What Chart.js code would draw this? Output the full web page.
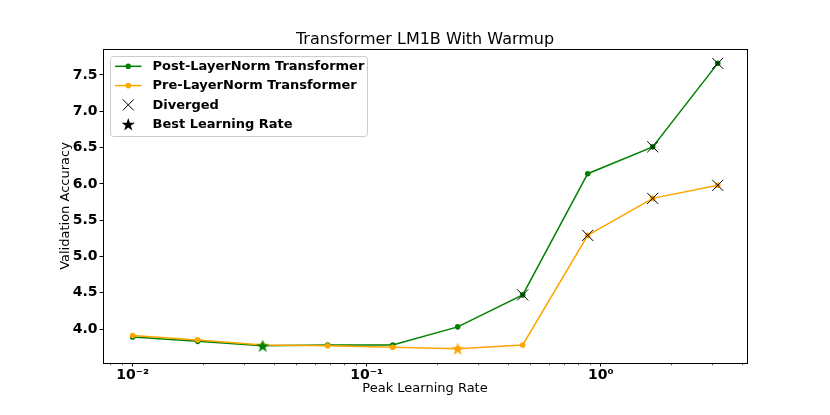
<!DOCTYPE html>
<html>
<head>
<meta charset="utf-8">
<script src="https://cdn.jsdelivr.net/npm/chart.js@4.4.0/dist/chart.umd.min.js"></script>
<style>
    html, body { margin: 0; padding: 0; background: #fff; }
</style>
</head>
<body>
<canvas id="chartWarmup" width="830" height="415"></canvas>
<script>
/* Transformer LM1B with warmup - validation vs peak learning rate */

const chartTitle = 'Transformer LM1B With Warmup';
const learningRates = [0.01, 0.01896, 0.03594, 0.06813, 0.1292, 0.2448, 0.4642, 0.8799, 1.6681, 3.1623];
const postLN = [3.89, 3.83, 3.77, 3.78, 3.78, 4.03, 4.47, 6.14, 6.51, 7.66];
const preLN = [3.91, 3.85, 3.78, 3.77, 3.75, 3.73, 3.78, 5.29, 5.80, 5.98];
const postDiverged = [6, 8, 9];
const preDiverged = [7, 8, 9];
const postBest = 2;
const preBest = 5;

const yTicks = [4.0, 4.5, 5.0, 5.5, 6.0, 6.5, 7.0, 7.5];
const xMajorTicks = [0.01, 0.1, 1];
const xMajorLabels = ['10⁻²', '10⁻¹', '10⁰'];
const xMinorTicks = [0.008, 0.009, 0.02, 0.03, 0.04, 0.05, 0.06, 0.07, 0.08, 0.09,
                     0.2, 0.3, 0.4, 0.5, 0.6, 0.7, 0.8, 0.9, 2, 3, 4];
const legendLabels = ['Post-LayerNorm Transformer', 'Pre-LayerNorm Transformer', 'Diverged', 'Best Learning Rate'];

const GREEN = '#008000';
const ORANGE = '#ffa500';
const FONT = '"DejaVu Sans", sans-serif';

function drawStar(c, cx, cy, r, color) {
    c.beginPath();
    for (let k = 0; k < 10; k++) {
        const rr = k % 2 ? r * 0.382 : r;
        const a = -Math.PI / 2 + k * Math.PI / 5;
        c.lineTo(cx + rr * Math.cos(a), cy + rr * Math.sin(a));
    }
    c.closePath();
    c.fillStyle = color;
    c.fill();
}

function makeStar(color, r) {
    const cv = document.createElement('canvas');
    const s = Math.ceil(r * 2 + 2);
    cv.width = s; cv.height = s;
    drawStar(cv.getContext('2d'), s / 2, s / 2 + r * 0.1, r, color);
    return cv;
}

const pts = (ys, idx) => idx.map(i => ({ x: learningRates[i], y: ys[i] }));
const allIdx = learningRates.map((_, i) => i);

// title over the axes, box, minor ticks, legend (matplotlib look)
const framePlugin = {
    id: 'frame',
    afterDraw(chart) {
        const c = chart.ctx;
        const a = chart.chartArea;
        const xs = chart.scales.x;
        c.save();

        c.fillStyle = '#000';
        c.font = '16px ' + FONT;
        c.textAlign = 'center';
        c.textBaseline = 'middle';
        c.fillText(chartTitle, (a.left + a.right) / 2, a.top - 9);
        c.textAlign = 'left';

        c.strokeStyle = '#000';
        c.lineWidth = 0.7;
        xMinorTicks.forEach(v => {
            const px = Math.round(xs.getPixelForValue(v)) + 0.5;
            c.beginPath(); c.moveTo(px, a.bottom); c.lineTo(px, a.bottom + 2.2); c.stroke();
        });
        c.lineWidth = 1;
        c.strokeRect(Math.round(a.left) + 0.5, Math.round(a.top) + 0.5,
                     Math.round(a.right - a.left), Math.round(a.bottom - a.top));

        // legend
        const lx = Math.round(a.left + 7) + 0.5, ly = Math.round(a.top + 7) + 0.5, lw = 257, lh = 80;
        c.beginPath();
        c.roundRect(lx, ly, lw, lh, 3);
        c.fillStyle = 'rgba(255,255,255,0.8)';
        c.fill();
        c.strokeStyle = '#cccccc';
        c.lineWidth = 1;
        c.stroke();

        const hx0 = lx + 4.5, hx1 = lx + 31, hcx = (hx0 + hx1) / 2;
        const tx = lx + 42;
        c.font = 'bold 13px ' + FONT;
        c.textBaseline = 'middle';
        legendLabels.forEach((label, k) => {
            const ry = ly + 9.8 + k * 19.3;
            if (k < 2) {
                const col = k === 0 ? GREEN : ORANGE;
                c.strokeStyle = col; c.lineWidth = 1.5;
                c.beginPath(); c.moveTo(hx0, ry); c.lineTo(hx1, ry); c.stroke();
                c.fillStyle = col;
                c.beginPath(); c.arc(hcx, ry, 2.8, 0, Math.PI * 2); c.fill();
            } else if (k === 2) {
                c.strokeStyle = '#000'; c.lineWidth = 1;
                c.beginPath();
                c.moveTo(hcx - 5.5, ry - 5.5); c.lineTo(hcx + 5.5, ry + 5.5);
                c.moveTo(hcx + 5.5, ry - 5.5); c.lineTo(hcx - 5.5, ry + 5.5);
                c.stroke();
            } else {
                drawStar(c, hcx, ry + 0.7, 7, '#000');
            }
            c.fillStyle = '#000';
            c.fillText(label, tx, ry + 0.5);
        });
        c.restore();
    }
};

new Chart(document.getElementById('chartWarmup').getContext('2d'), {
    type: 'line',
    data: {
        datasets: [
            { label: legendLabels[0], data: pts(postLN, allIdx), borderColor: GREEN, backgroundColor: GREEN,
              borderWidth: 1.5, pointRadius: 2.8, pointBorderWidth: 0, pointBackgroundColor: GREEN, order: 4 },
            { label: legendLabels[1], data: pts(preLN, allIdx), borderColor: ORANGE, backgroundColor: ORANGE,
              borderWidth: 1.5, pointRadius: 2.8, pointBorderWidth: 0, pointBackgroundColor: ORANGE, order: 3 },
            { label: legendLabels[2], data: pts(postLN, postDiverged).concat(pts(preLN, preDiverged)),
              showLine: false, pointStyle: 'crossRot', pointRadius: 7.8, pointBorderColor: '#000',
              pointBorderWidth: 1, order: 2 },
            { label: legendLabels[3], data: pts(postLN, [postBest]).concat(pts(preLN, [preBest])),
              showLine: false, pointStyle: [makeStar(GREEN, 7), makeStar(ORANGE, 7)], order: 1 }
        ]
    },
    options: {
        responsive: false,
        animation: false,
        events: [],
        layout: { padding: { left: 0, right: 83, top: 49, bottom: 0 } },
        plugins: {
            legend: { display: false },
            tooltip: { enabled: false },
            title: { display: false }
        },
        scales: {
            x: {
                type: 'logarithmic',
                min: 0.00747,
                max: 4.217,
                afterBuildTicks: s => { s.ticks = xMajorTicks.map(v => ({ value: v })); },
                afterFit: s => { s.height = 52; },
                grid: { drawOnChartArea: false, tickLength: 3.5, tickColor: '#000' },
                border: { display: false },
                ticks: {
                    color: '#000',
                    font: { family: FONT, size: 14, weight: 'bold' },
                    padding: 0,
                    autoSkip: false,
                    maxRotation: 0,
                    callback: v => xMajorLabels[xMajorTicks.indexOf(v)] || ''
                },
                title: {
                    display: true, text: 'Peak Learning Rate', color: '#000',
                    font: { family: FONT, size: 13 },
                    padding: { top: 0, bottom: 18.2 }
                }
            },
            y: {
                min: 3.532,
                max: 7.858,
                afterBuildTicks: s => { s.ticks = yTicks.map(v => ({ value: v })); },
                afterFit: s => { s.width = 103; },
                grid: { drawOnChartArea: false, tickLength: 3.5, tickColor: '#000' },
                border: { display: false },
                ticks: {
                    color: '#000',
                    font: { family: FONT, size: 14, weight: 'bold' },
                    padding: 2,
                    callback: v => v.toFixed(1)
                },
                title: {
                    display: true, text: 'Validation Accuracy', color: '#000',
                    font: { family: FONT, size: 13 },
                    padding: { top: 58.2, bottom: 0 }
                }
            }
        }
    },
    plugins: [framePlugin]
});
</script>
</body>
</html>
